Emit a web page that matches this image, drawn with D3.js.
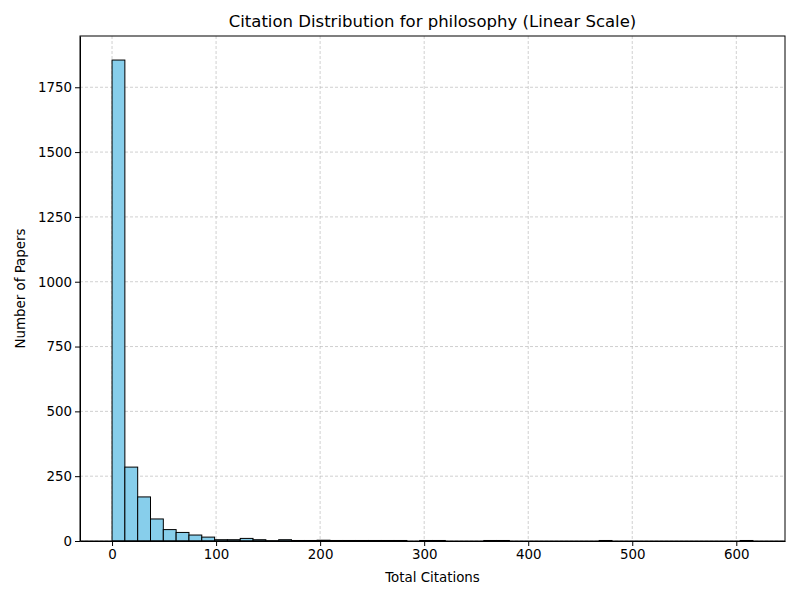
<!DOCTYPE html>
<html><head><meta charset="utf-8">
<script src="https://cdn.jsdelivr.net/npm/d3@7"></script>
<style>body{margin:0;background:#fff}text{font-family:"DejaVu Sans",sans-serif}</style>
</head><body><svg id="c" width="800" height="600"></svg>
<script>
const binStart = 0, binWidth = 12.32;
const counts = [1855,285,170,85,44,33,23,15,5,5,10,5,1,5,2,2,3,2,2,2,2,2,2,0,2,2,0,0,0,2,2,0,0,0,0,0,0,0,2,0,0,0,0,0,0,0,0,0,0,2];
const xTicks = [0,100,200,300,400,500,600];
const yTicks = [0,250,500,750,1000,1250,1500,1750];
const svg = d3.select("#c");
const L=80,R=785,T=36,B=541;
const xMax = binStart+binWidth*counts.length;
const x = d3.scaleLinear().domain([-xMax*0.05, xMax*1.05]).range([L,R]);
const y = d3.scaleLinear().domain([0, 1855*1.05]).range([B,T]);
const g = svg.append("g");
xTicks.forEach(t=>g.append("line").attr("x1",x(t)).attr("x2",x(t)).attr("y1",T).attr("y2",B).attr("stroke","#b0b0b0").attr("stroke-width",0.6).attr("stroke-dasharray","3,2"));
yTicks.forEach(t=>g.append("line").attr("x1",L).attr("x2",R).attr("y1",y(t)).attr("y2",y(t)).attr("stroke","#b0b0b0").attr("stroke-width",0.6).attr("stroke-dasharray","3,2"));
svg.append("g").selectAll("rect").data(counts).join("rect")
 .attr("x",(d,i)=>x(binStart+i*binWidth)).attr("width",(d,i)=>x(binStart+(i+1)*binWidth)-x(binStart+i*binWidth))
 .attr("y",d=>y(d)).attr("height",d=>B-y(d)).attr("fill","#87ceeb").attr("stroke","#000").attr("stroke-width",1);
svg.append("g").attr("transform",`translate(0,${B})`).call(d3.axisBottom(x).tickValues(xTicks).tickSize(5).tickSizeOuter(0).tickFormat(d3.format("d"))).call(a=>a.selectAll("text").attr("font-size",13.4).attr("fill","#000"));
svg.append("g").attr("transform",`translate(${L},0)`).call(d3.axisLeft(y).tickValues(yTicks).tickSize(5).tickSizeOuter(0).tickFormat(d3.format("d"))).call(a=>a.selectAll("text").attr("font-size",13.4).attr("fill","#000"));
svg.append("rect").attr("x",L).attr("y",T).attr("width",R-L).attr("height",B-T).attr("fill","none").attr("stroke","#000").attr("stroke-width",1);
svg.append("text").attr("x",(L+R)/2).attr("y",27).attr("text-anchor","middle").attr("font-size",16.5).text("Citation Distribution for philosophy (Linear Scale)");
svg.append("text").attr("x",(L+R)/2).attr("y",582).attr("text-anchor","middle").attr("font-size",13.4).text("Total Citations");
svg.append("text").attr("transform",`translate(25,${(T+B)/2}) rotate(-90)`).attr("text-anchor","middle").attr("font-size",13.4).text("Number of Papers");
</script></body></html>
